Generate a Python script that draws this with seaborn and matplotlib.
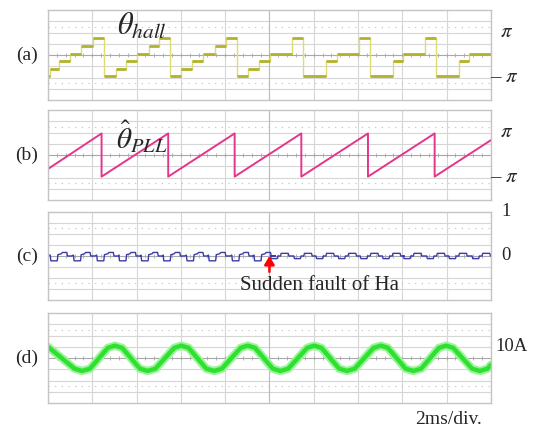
import numpy as np
import pandas as pd
import matplotlib
matplotlib.use("Agg")
import matplotlib.pyplot as plt
import seaborn as sns

# ---------------- data ----------------
# time axis: 10 divisions x 2 ms
# (a) hall angle steps, values in units of pi
hall_t = [0.0, 0.08, 0.5, 1.0, 1.5, 2.05, 2.55, 3.05, 3.52, 4.03, 4.55, 5.03,
          5.5, 6.02, 6.5, 7.02, 7.52, 8.02, 8.52, 9.02, 9.52, 10.03,
          11.03, 11.53, 12.55, 13.04, 14.03, 14.53, 15.56, 16.03,
          17.03, 17.53, 18.55, 19.03, 20.0]
hall_v = [-0.95, -0.6, -0.28, 0.06, 0.39, 0.77, -0.95, -0.6, -0.28, 0.06, 0.39, 0.77,
          -0.95, -0.6, -0.28, 0.06, 0.39, 0.77, -0.95, -0.6, -0.28, 0.06,
          0.77, -0.95, -0.28, 0.06, 0.77, -0.95, -0.28, 0.06,
          0.77, -0.95, -0.28, 0.06, 0.06]

# (b) PLL angle sawtooth, units of pi
pll_t = [0.0, 2.42, 2.42, 5.43, 5.43, 8.43, 8.43, 11.44, 11.44, 14.45, 14.45,
         17.46, 17.46, 20.0]
pll_v = [-0.62, 0.96, -0.96, 0.96, -0.96, 0.96, -0.96, 0.96, -0.96, 0.96, -0.96,
         0.96, -0.96, 0.66]

# (c) angle error: one-cycle shapes before / after the fault, and cycle starts
err_pre_dt = [0.0, 0.03, 0.32, 0.35, 0.50, 0.55, 0.75, 0.78, 0.97]
err_pre_v = [0.02, -0.11, -0.11, 0.03, 0.05, 0.08, 0.08, 0.0, 0.0]
err_post_dt = [0.0, 0.03, 0.30, 0.33, 0.45, 0.48, 0.80, 0.83, 0.98]
err_post_v = [0.0, -0.06, -0.06, 0.0, 0.0, 0.06, 0.06, 0.0, 0.0]
err_pre_start = [0.1, 1.15, 2.2, 3.2, 4.2, 5.2, 6.25, 7.25, 8.3, 9.3]
err_post_start = [10.05, 11.1, 12.1, 13.1, 14.1, 15.1, 16.05, 17.1, 18.1, 19.15]

# (d) phase current: extreme points and shoulders (A)
cur_t = [0.0, 1.2, 1.54, 1.9, 2.7, 3.02, 3.35, 4.15, 4.5, 4.85, 5.7, 6.02, 6.35,
         7.15, 7.5, 7.85, 8.7, 9.02, 9.35, 10.15, 10.5, 10.85, 11.7, 12.02, 12.35,
         13.15, 13.5, 13.85, 14.7, 15.03, 15.35, 16.15, 16.5, 16.85, 17.65, 17.98,
         18.3, 19.15, 19.5, 19.85, 20.0]
cur_v = [10.0, -9.5, -11.5, -9.5, 9.0, 11.0, 9.0, -9.5, -11.5, -9.5, 9.0, 11.0, 9.0,
         -9.5, -11.5, -9.5, 9.0, 11.0, 9.0, -9.5, -11.5, -9.5, 9.0, 11.0, 9.0,
         -9.5, -11.5, -9.5, 9.0, 11.0, 9.0, -9.5, -11.5, -9.5, 9.0, 11.0,
         9.0, -9.5, -11.5, -9.5, -6.0]

panel_labels = ["(a)", "(b)", "(c)", "(d)"]
fault_time = 10.0

# ---------------- style ----------------
sns.set_theme(style="white")
plt.rcParams["font.family"] = ["Liberation Serif", "DejaVu Serif"]
plt.rcParams["mathtext.fontset"] = "stix"

fig = plt.figure(figsize=(5.33, 4.32), dpi=100)
boxes = [(0.090, 0.7685, 0.831, 0.2083),
         (0.090, 0.5370, 0.831, 0.2083),
         (0.090, 0.3056, 0.831, 0.2037),
         (0.090, 0.0671, 0.831, 0.2083)]
axes = [fig.add_axes(b) for b in boxes]
divs = [np.pi / 2, np.pi / 2, 0.25, 10.0]  # value per vertical division

GRID = "#d6d6d6"
for ax, d, lab in zip(axes, divs, panel_labels):
    ax.set_xlim(0, 20)
    ax.set_ylim(-4 * d, 4 * d)
    ax.set_xticks(np.arange(0, 21, 2))
    ax.set_yticks([k * d for k in (-3, -2, -1, 1, 2, 3)])
    ax.grid(True, color=GRID, lw=0.8)
    ax.tick_params(length=0, labelleft=False, labelbottom=False)
    for s in ax.spines.values():
        s.set_color("#c4c4c4")
        s.set_linewidth(1.0)
    for k in (-2.5, 2.5):
        ax.axhline(k * d, color="#bdbdbd", lw=0.8, ls=(0, (1, 5)))
    ax.axhline(0, color="#a8a8a8", lw=0.8)
    ax.axvline(10, color="#bcbcbc", lw=0.8)
    mt = np.arange(0, 20.01, 0.4)
    ax.plot(mt, np.zeros_like(mt), "|", ms=3, color="#a8a8a8", mew=0.6)
    ax.text(-0.048, 0.5, lab, transform=ax.transAxes, ha="center", va="center",
            fontsize=14)
    ax.set_facecolor("white")

# (a) hall angle
ha = pd.DataFrame({"t": hall_t, "v": np.array(hall_v) * np.pi})
sns.lineplot(data=ha, x="t", y="v", ax=axes[0], drawstyle="steps-post",
             color="#dede70", lw=1.0, sort=False, estimator=None)
axes[0].hlines(ha["v"][:-1], ha["t"][:-1], ha["t"][1:], color="#b2b22c", lw=2.0)
fig.text(117 / 533, 1 - 27 / 432, r"$\theta_{hall}$", fontsize=22,
         ha="left", va="center")

# (b) PLL angle
pl = pd.DataFrame({"t": pll_t, "v": np.array(pll_v) * np.pi})
sns.lineplot(data=pl, x="t", y="v", ax=axes[1], color="#e4358c", lw=1.4,
             sort=False, estimator=None)

# (c) error
et, ev = [], []
for s0 in err_pre_start:
    et += [s0 + dt for dt in err_pre_dt]
    ev += err_pre_v
for s0 in err_post_start:
    et += [s0 + dt for dt in err_post_dt]
    ev += err_post_v
er = pd.DataFrame({"t": [0.0] + et + [20.0], "v": [0.02] + ev + [0.0]})
er = er[er["t"] <= 20.0]
sns.lineplot(data=er, x="t", y="v", ax=axes[2], color="#3c3ca8", lw=1.0,
             sort=False, estimator=None)

# (d) current
cu = pd.DataFrame({"t": cur_t, "v": cur_v})
sns.lineplot(data=cu, x="t", y="v", ax=axes[3], color="#9af49a", lw=6,
             sort=False, estimator=None, solid_joinstyle="round")
sns.lineplot(data=cu, x="t", y="v", ax=axes[3], color="#30e030", lw=3.2,
             sort=False, estimator=None, solid_joinstyle="round")

# right-side labels
def rlabel(ax, y, s, dx=1.035, fs=15):
    ax.text(dx, y, s, transform=ax.get_yaxis_transform(), ha="center",
            va="center", fontsize=fs, clip_on=False)

rlabel(axes[0], np.pi, r"$\pi$")
rlabel(axes[0], -np.pi, r"– $\pi$", dx=1.03)
rlabel(axes[1], np.pi, r"$\pi$")
rlabel(axes[1], -np.pi, r"– $\pi$", dx=1.03)
rlabel(axes[2], 1.0, "1", fs=13.5)
rlabel(axes[2], 0.0, "0", fs=13.5)
axes[3].text(1.01, 10.5, "10A", transform=axes[3].get_yaxis_transform(),
             ha="left", va="center", fontsize=13.5)

# PLL label
fig.text(116 / 533, 1 - 137 / 432, r"$\hat{\theta}_{PLL}$", fontsize=21,
         ha="left", va="center")

# fault annotation
axes[2].annotate("", xy=(fault_time, 0.0), xytext=(fault_time, -0.36),
                 arrowprops=dict(arrowstyle="-|>,head_length=0.5,head_width=0.3",
                                 color="red", lw=1.8, mutation_scale=10,
                                 shrinkA=0, shrinkB=0))
axes[2].text(8.67, -0.67, "Sudden fault of Ha", ha="left",
             va="center", fontsize=15)

fig.text(415 / 533, 1 - 420 / 432, "2ms/div.", fontsize=14, ha="left",
         va="center")

fig.savefig("out.png", dpi=100, facecolor="white")
